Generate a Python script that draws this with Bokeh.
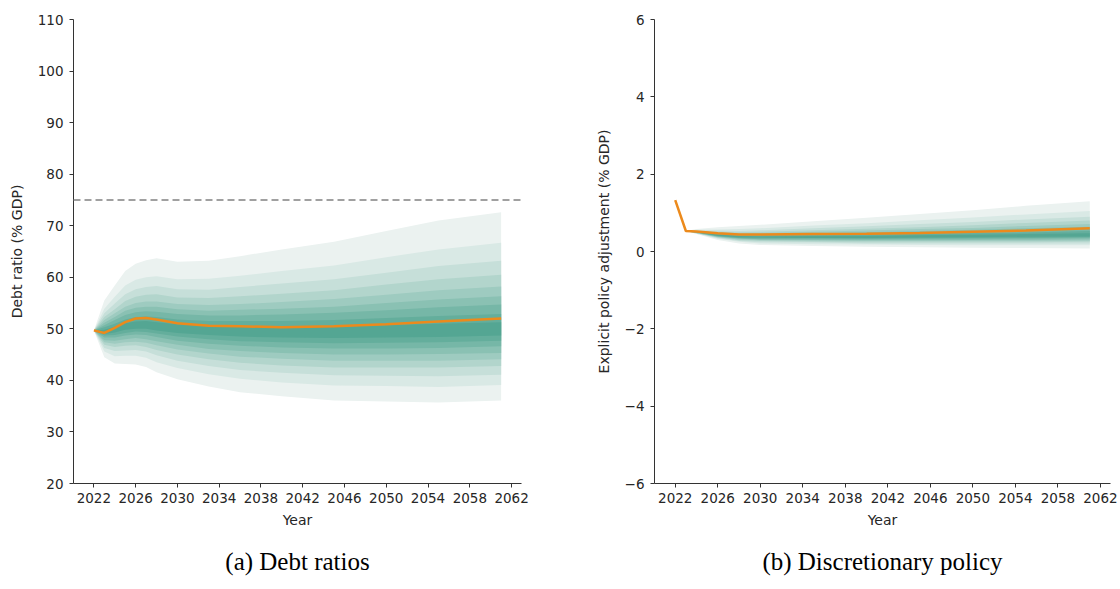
from bokeh.plotting import figure
from bokeh.layouts import row
from bokeh.models import Range1d, FixedTicker, Span, Title
from bokeh.embed import file_html
from bokeh.resources import INLINE

# ---------------- Panel (a): debt ratios ----------------
debt_years = [2022, 2023, 2024, 2025, 2026, 2027, 2028, 2030, 2033, 2036, 2040, 2045, 2050, 2055, 2061]
debt_p95 = [49.7, 55.5, 58.4, 61.2, 62.6, 63.3, 63.7, 63.0, 63.2, 64.1, 65.4, 66.9, 69.0, 71.0, 72.6]
debt_p90 = [49.7, 53.9, 56.2, 58.4, 59.5, 60.0, 60.2, 59.6, 59.7, 60.3, 61.2, 62.3, 63.9, 65.4, 66.7]
debt_p85 = [49.7, 53.0, 54.9, 56.7, 57.7, 58.1, 58.3, 57.7, 57.6, 58.1, 58.8, 59.6, 60.9, 62.2, 63.2]
debt_p80 = [49.7, 52.3, 53.8, 55.4, 56.2, 56.6, 56.7, 56.1, 56.0, 56.3, 56.8, 57.5, 58.6, 59.6, 60.5]
debt_p75 = [49.7, 51.7, 53.0, 54.3, 55.0, 55.3, 55.3, 54.8, 54.6, 54.8, 55.2, 55.8, 56.6, 57.5, 58.2]
debt_p70 = [49.7, 51.2, 52.3, 53.5, 54.1, 54.3, 54.3, 53.8, 53.5, 53.7, 53.9, 54.3, 55.0, 55.7, 56.3]
debt_p65 = [49.7, 50.7, 51.7, 52.7, 53.2, 53.4, 53.3, 52.9, 52.6, 52.6, 52.8, 53.1, 53.6, 54.2, 54.7]
debt_p60 = [49.7, 50.3, 51.0, 51.8, 52.3, 52.4, 52.3, 51.8, 51.5, 51.5, 51.5, 51.7, 52.1, 52.5, 52.9]
debt_p55 = [49.7, 49.8, 50.4, 51.1, 51.4, 51.5, 51.3, 50.9, 50.6, 50.4, 50.3, 50.4, 50.7, 51.0, 51.3]
debt_p45 = [49.7, 49.0, 49.3, 49.8, 50.0, 50.0, 49.7, 49.2, 48.8, 48.5, 48.3, 48.2, 48.3, 48.4, 48.7]
debt_p40 = [49.7, 48.7, 48.8, 49.2, 49.5, 49.4, 49.1, 48.5, 48.0, 47.6, 47.4, 47.2, 47.3, 47.4, 47.7]
debt_p35 = [49.7, 48.3, 48.3, 48.7, 48.9, 48.8, 48.4, 47.7, 47.1, 46.7, 46.4, 46.2, 46.2, 46.3, 46.6]
debt_p30 = [49.7, 47.8, 47.7, 48.0, 48.2, 48.0, 47.6, 46.9, 46.1, 45.7, 45.3, 45.0, 45.0, 45.1, 45.3]
debt_p25 = [49.7, 47.4, 47.1, 47.4, 47.5, 47.3, 46.8, 46.0, 45.2, 44.6, 44.2, 43.8, 43.8, 43.8, 44.1]
debt_p20 = [49.7, 46.9, 46.5, 46.7, 46.8, 46.5, 45.9, 45.0, 44.1, 43.4, 42.9, 42.5, 42.5, 42.5, 42.8]
debt_p15 = [49.7, 46.3, 45.7, 45.8, 45.9, 45.6, 44.9, 43.8, 42.8, 42.0, 41.5, 41.0, 40.9, 40.8, 41.1]
debt_p10 = [49.7, 45.6, 44.7, 44.8, 44.8, 44.4, 43.5, 42.4, 41.2, 40.3, 39.6, 39.0, 38.9, 38.7, 39.1]
debt_p05 = [49.7, 44.5, 43.3, 43.2, 43.1, 42.6, 41.6, 40.2, 38.8, 37.7, 36.9, 36.1, 35.9, 35.7, 36.1]
debt_line = [49.7, 49.2, 50.2, 51.3, 52.0, 52.1, 51.8, 51.1, 50.6, 50.5, 50.3, 50.5, 50.9, 51.4, 52.0]
debt_threshold = 75

# ---------------- Panel (b): discretionary policy ----------------
pol_years = [2023, 2024, 2026, 2028, 2030, 2035, 2040, 2045, 2050, 2055, 2061]
pol_p95 = [0.53, 0.58, 0.63, 0.66, 0.69, 0.78, 0.87, 0.97, 1.07, 1.18, 1.30]
pol_p90 = [0.53, 0.56, 0.57, 0.58, 0.60, 0.67, 0.73, 0.81, 0.88, 0.96, 1.05]
pol_p85 = [0.53, 0.54, 0.54, 0.53, 0.55, 0.60, 0.65, 0.71, 0.76, 0.83, 0.90]
pol_p80 = [0.53, 0.53, 0.51, 0.50, 0.51, 0.55, 0.59, 0.63, 0.68, 0.74, 0.80]
pol_p75 = [0.53, 0.53, 0.49, 0.47, 0.48, 0.51, 0.54, 0.58, 0.61, 0.66, 0.71]
pol_p70 = [0.53, 0.52, 0.47, 0.45, 0.45, 0.47, 0.50, 0.53, 0.56, 0.60, 0.64]
pol_p65 = [0.53, 0.51, 0.46, 0.43, 0.43, 0.44, 0.46, 0.49, 0.51, 0.54, 0.58]
pol_p60 = [0.53, 0.51, 0.45, 0.41, 0.41, 0.42, 0.43, 0.45, 0.47, 0.49, 0.53]
pol_p55 = [0.53, 0.50, 0.43, 0.40, 0.39, 0.40, 0.40, 0.42, 0.43, 0.45, 0.47]
pol_p45 = [0.53, 0.50, 0.41, 0.37, 0.36, 0.35, 0.35, 0.36, 0.37, 0.38, 0.39]
pol_p40 = [0.53, 0.49, 0.40, 0.35, 0.34, 0.34, 0.33, 0.34, 0.35, 0.35, 0.37]
pol_p35 = [0.53, 0.49, 0.39, 0.34, 0.32, 0.32, 0.31, 0.32, 0.32, 0.33, 0.34]
pol_p30 = [0.53, 0.48, 0.38, 0.33, 0.31, 0.30, 0.29, 0.29, 0.30, 0.30, 0.31]
pol_p25 = [0.53, 0.48, 0.37, 0.31, 0.29, 0.28, 0.27, 0.27, 0.27, 0.27, 0.28]
pol_p20 = [0.53, 0.47, 0.36, 0.29, 0.27, 0.25, 0.24, 0.24, 0.24, 0.24, 0.25]
pol_p15 = [0.53, 0.47, 0.34, 0.27, 0.24, 0.23, 0.21, 0.21, 0.21, 0.21, 0.21]
pol_p10 = [0.53, 0.46, 0.33, 0.25, 0.21, 0.19, 0.18, 0.17, 0.16, 0.16, 0.16]
pol_p05 = [0.53, 0.45, 0.30, 0.21, 0.17, 0.14, 0.12, 0.11, 0.10, 0.09, 0.08]
pol_line_years = [2022, 2023, 2024, 2026, 2028, 2030, 2035, 2040, 2045, 2050, 2055, 2061]
pol_line = [1.33, 0.53, 0.52, 0.47, 0.44, 0.44, 0.45, 0.46, 0.48, 0.51, 0.54, 0.60]

year_ticks = [2022, 2026, 2030, 2034, 2038, 2042, 2046, 2050, 2054, 2058, 2062]
debt_ticks = [20, 30, 40, 50, 60, 70, 80, 90, 100, 110]
pol_ticks = [-6, -4, -2, 0, 2, 4, 6]

band_colors = ["#ebf2f0", "#d9e9e5", "#c6dfd9", "#b2d5cc", "#9ecbc0",
               "#8ac1b3", "#76b7a7", "#64ae9c", "#54a693"]
LINE_COLOR = "#ec8a1c"
TXT = "#262626"
FONT = "DejaVu Sans"


def style(p, ylabel):
    p.outline_line_color = None
    p.xgrid.grid_line_color = None
    p.ygrid.grid_line_color = None
    p.background_fill_color = "white"
    p.border_fill_color = "white"
    for ax in (p.xaxis, p.yaxis):
        ax.axis_line_color = "#333333"
        ax.axis_line_width = 1
        ax.major_tick_line_color = "#333333"
        ax.major_tick_out = 4
        ax.major_tick_in = 0
        ax.minor_tick_line_color = None
        ax.major_label_text_font = FONT
        ax.major_label_text_font_size = "13.5px"
        ax.major_label_text_color = TXT
        ax.axis_label_text_font = FONT
        ax.axis_label_text_font_size = "14px"
        ax.axis_label_text_font_style = "normal"
        ax.axis_label_text_color = TXT
    p.xaxis.axis_label = "Year"
    p.xaxis.axis_label_standoff = 6
    p.xaxis.major_label_standoff = 5
    p.yaxis.axis_label = ylabel
    p.yaxis.axis_label_standoff = 10
    p.yaxis.major_label_standoff = 6
    p.xaxis.ticker = FixedTicker(ticks=year_ticks)


def caption(p, text, off):
    p.add_layout(Title(text=text, align="center", vertical_align="bottom",
                       text_font="Liberation Serif", text_font_size="25px",
                       text_font_style="normal", text_color="black",
                       offset=off, standoff=30), "below")


# ---- Panel a
pa = figure(width=560, height=589, x_range=Range1d(2020.05, 2062.95), y_range=Range1d(20, 110),
            output_backend="svg", toolbar_location=None,
            min_border_left=73, min_border_right=39, min_border_top=19, min_border_bottom=105)
style(pa, "Debt ratio (% GDP)")
pa.yaxis.ticker = FixedTicker(ticks=debt_ticks)

debt_lo = [debt_p05, debt_p10, debt_p15, debt_p20, debt_p25, debt_p30, debt_p35, debt_p40, debt_p45]
debt_hi = [debt_p95, debt_p90, debt_p85, debt_p80, debt_p75, debt_p70, debt_p65, debt_p60, debt_p55]
for lo, hi, c in zip(debt_lo, debt_hi, band_colors):
    pa.varea(x=debt_years, y1=lo, y2=hi, fill_color=c, fill_alpha=1.0)
pa.add_layout(Span(location=debt_threshold, dimension="width", line_color="#a0a0a0",
                   line_width=2, line_dash="7 4"))
pa.line(debt_years, debt_line, line_color=LINE_COLOR, line_width=2.5)
caption(pa, "(a) Debt ratios", -37)

# ---- Panel b
pb = figure(width=560, height=589, x_range=Range1d(2020.05, 2062.95), y_range=Range1d(-6, 6),
            output_backend="svg", toolbar_location=None,
            min_border_left=94, min_border_right=10, min_border_top=19, min_border_bottom=105)
style(pb, "Explicit policy adjustment (% GDP)")
pb.yaxis.ticker = FixedTicker(ticks=pol_ticks)
pb.yaxis.major_label_overrides = {-6: "\u22126", -4: "\u22124", -2: "\u22122"}

pol_lo = [pol_p05, pol_p10, pol_p15, pol_p20, pol_p25, pol_p30, pol_p35, pol_p40, pol_p45]
pol_hi = [pol_p95, pol_p90, pol_p85, pol_p80, pol_p75, pol_p70, pol_p65, pol_p60, pol_p55]
for lo, hi, c in zip(pol_lo, pol_hi, band_colors):
    pb.varea(x=pol_years, y1=lo, y2=hi, fill_color=c, fill_alpha=1.0)
pb.line(pol_line_years, pol_line, line_color=LINE_COLOR, line_width=2.5)
caption(pb, "(b) Discretionary policy", -32)

layout = row(pa, pb, spacing=0)
open("out.html", "w").write(file_html(layout, INLINE))
